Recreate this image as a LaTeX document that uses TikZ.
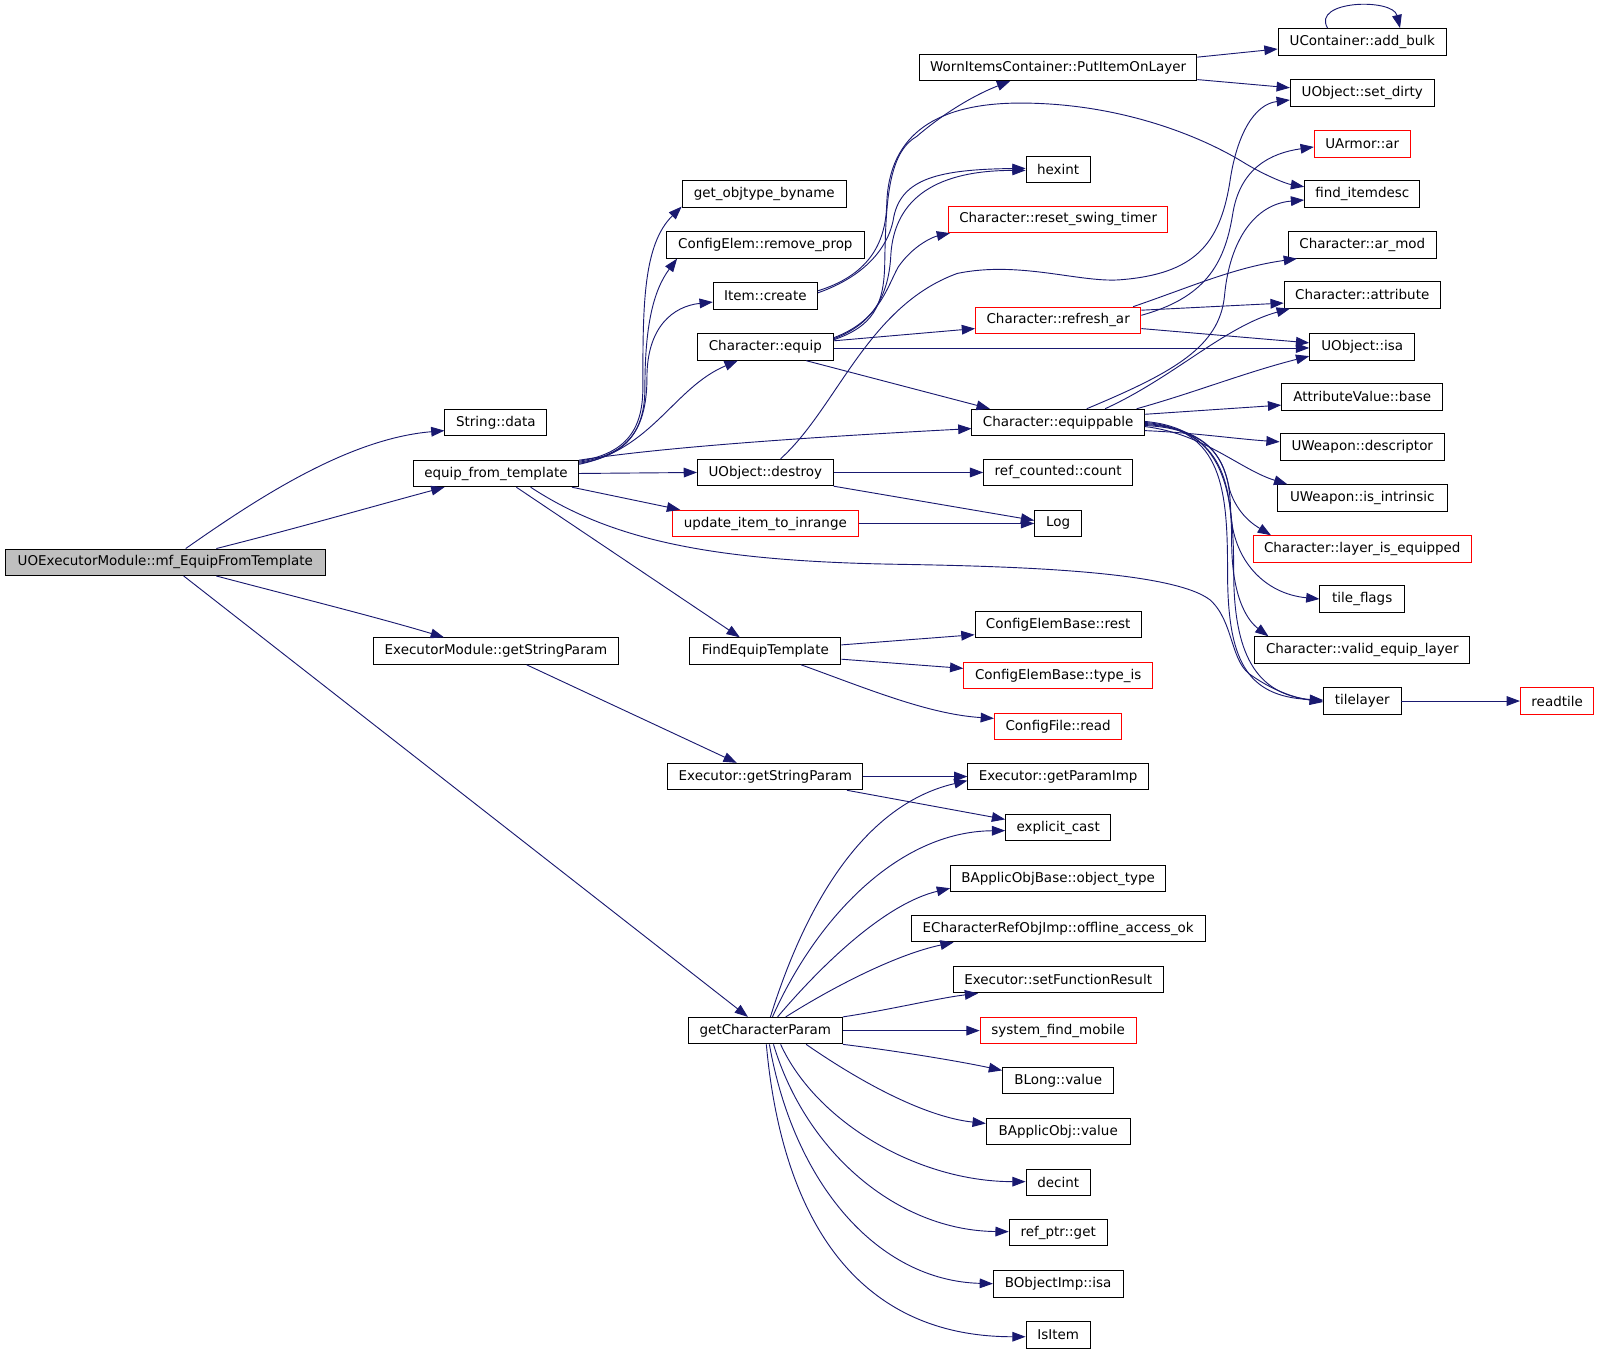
\documentclass[tikz,border=0pt]{standalone}
\usepackage{fontspec}
\setmainfont{DejaVu Sans}
\usetikzlibrary{arrows.meta}
\definecolor{edgecol}{HTML}{191970}
\definecolor{mainfill}{HTML}{BFBFBF}
\begin{document}
\begin{tikzpicture}[x=1pt,y=-1pt,
  box/.style={draw=black, line width=0.9pt, minimum height=26pt, inner sep=0pt, font=\fontsize{13.2}{15}\selectfont, fill=white},
  redbox/.style={box, draw=red},
  e/.style={draw=edgecol, line width=0.9pt, -{Triangle[length=13pt,width=9.5pt]}},
]
\useasboundingbox[fill=white] (0,0) rectangle (1568,1326);

% column 0/1
\node[box, minimum width=313pt, fill=mainfill] (main) at (162,551) {UOExecutorModule::mf\_EquipFromTemplate};
\node[box, minimum width=100pt] (sdata) at (486,414) {String::data};
\node[box, minimum width=162pt] (efrom) at (486,464) {equip\_from\_template};
\node[box, minimum width=241pt] (emgsp) at (486,638) {ExecutorModule::getStringParam};
% column 2
\node[box, minimum width=161pt] (gobj) at (749,190) {get\_objtype\_byname};
\node[box, minimum width=194pt] (remprop) at (750,240) {ConfigElem::remove\_prop};
\node[box, minimum width=102pt] (icreate) at (750,290) {Item::create};
\node[box, minimum width=133pt] (cequip) at (750,340) {Character::equip};
\node[box, minimum width=133pt] (udestroy) at (750,463) {UObject::destroy};
\node[redbox, minimum width=182pt] (uitir) at (750,513) {update\_item\_to\_inrange};
\node[box, minimum width=148pt] (fet) at (750,638) {FindEquipTemplate};
\node[box, minimum width=191pt] (exgsp) at (750,761) {Executor::getStringParam};
\node[box, minimum width=151pt] (gcp) at (750,1010) {getCharacterParam};
% column 3
\node[box, minimum width=272pt] (worn) at (1037,66) {WornItemsContainer::PutItemOnLayer};
\node[box, minimum width=63pt] (hexint) at (1037,166) {hexint};
\node[redbox, minimum width=215pt] (rst) at (1037,215) {Character::reset\_swing\_timer};
\node[redbox, minimum width=162pt] (refar) at (1037,314) {Character::refresh\_ar};
\node[box, minimum width=169pt] (equipp) at (1037,414) {Character::equippable};
\node[box, minimum width=146pt] (rcc) at (1037,463) {ref\_counted::count};
\node[box, minimum width=46pt] (log) at (1037,513) {Log};
\node[box, minimum width=163pt] (cebrest) at (1037,612) {ConfigElemBase::rest};
\node[redbox, minimum width=185pt] (cebti) at (1037,662) {ConfigElemBase::type\_is};
\node[redbox, minimum width=125pt] (cfread) at (1037,712) {ConfigFile::read};
\node[box, minimum width=177pt] (gpi) at (1037,761) {Executor::getParamImp};
\node[box, minimum width=103pt] (ecast) at (1037,811) {explicit\_cast};
\node[box, minimum width=211pt] (baot) at (1037,861) {BApplicObjBase::object\_type};
\node[box, minimum width=288pt] (ecro) at (1037,910) {ECharacterRefObjImp::offline\_access\_ok};
\node[box, minimum width=206pt] (esfr) at (1037,960) {Executor::setFunctionResult};
\node[redbox, minimum width=153pt] (sfm) at (1037,1010) {system\_find\_mobile};
\node[box, minimum width=109pt] (blong) at (1037,1059) {BLong::value};
\node[box, minimum width=141pt] (bapv) at (1037,1109) {BApplicObj::value};
\node[box, minimum width=63pt] (decint) at (1037,1159) {decint};
\node[box, minimum width=96pt] (rpget) at (1037,1208) {ref\_ptr::get};
\node[box, minimum width=127pt] (boisa) at (1037,1258) {BObjectImp::isa};
\node[box, minimum width=63pt] (isitem) at (1037,1308) {IsItem};
% column 4
\node[box, minimum width=165pt] (addbulk) at (1335,41) {UContainer::add\_bulk};
\node[box, minimum width=141pt] (setdirty) at (1335,91) {UObject::set\_dirty};
\node[redbox, minimum width=94pt] (uarmor) at (1335,141) {UArmor::ar};
\node[box, minimum width=113pt] (finditem) at (1335,190) {find\_itemdesc};
\node[box, minimum width=145pt] (armod) at (1335,240) {Character::ar\_mod};
\node[box, minimum width=153pt] (attr) at (1335,289) {Character::attribute};
\node[box, minimum width=103pt] (uoisa) at (1335,340) {UObject::isa};
\node[box, minimum width=158pt] (avbase) at (1335,389) {AttributeValue::base};
\node[box, minimum width=161pt] (uwdesc) at (1335,438) {UWeapon::descriptor};
\node[box, minimum width=166pt] (uwint) at (1335,488) {UWeapon::is\_intrinsic};
\node[redbox, minimum width=214pt] (lie) at (1335,538) {Character::layer\_is\_equipped};
\node[box, minimum width=83pt] (tflags) at (1335,587) {tile\_flags};
\node[box, minimum width=211pt] (vel) at (1335,637) {Character::valid\_equip\_layer};
\node[box, minimum width=76pt] (tilelayer) at (1335,687) {tilelayer};
\node[redbox, minimum width=72pt] (readtile) at (1526,687) {readtile};

% main
\draw[e] ([xshift=20pt]main.north) .. controls (250,490) and (340,430) .. ([yshift=-8pt]sdata.west);
\draw[e] ([xshift=50pt]main.north) .. controls (290,518) and (370,495) .. ([xshift=31pt]efrom.south west);
\draw[e] ([xshift=50pt]main.south) .. controls (290,585) and (370,605) .. ([xshift=70pt]emgsp.north west);
\draw[e] ([xshift=18pt]main.south) -- ([xshift=-17pt]gcp.north);

% equip_from_template
\draw[e] ([yshift=12pt]efrom.east) .. controls (610,445) and (630,425) .. (630,380) .. controls (630,300) and (630,240) .. ([yshift=1pt]gobj.south west);
\draw[e] ([yshift=11pt]efrom.east) .. controls (612,446) and (632,425) .. (632,380) .. controls (632,320) and (640,285) .. ([xshift=11pt]remprop.south west);
\draw[e] ([yshift=10pt]efrom.east) .. controls (612,447) and (634,425) .. (634,370) .. controls (634,320) and (660,300) .. ([yshift=-6pt]icreate.west);
\draw[e] ([yshift=9pt]efrom.east) .. controls (640,440) and (660,380) .. ([xshift=-27pt]cequip.south);
\draw[e] ([yshift=13pt]efrom.east) .. controls (650,438) and (800,428) .. ([yshift=-6pt]equipp.west);
\draw[e] (efrom.east) -- (udestroy.west);
\draw[e] ([xshift=-7pt]efrom.south east) -- ([xshift=8pt]uitir.north west);
\draw[e] ([xshift=20pt]efrom.south) -- ([xshift=-25pt]fet.north);
\draw[e] ([xshift=34pt]efrom.south) .. controls (600,530) and (700,550) .. (880,553) .. controls (1000,555) and (1150,560) .. (1186,588) .. controls (1210,610) and (1205,650) .. (1228,663) .. controls (1250,678) and (1270,684) .. ([yshift=-1pt]tilelayer.west);

% ExecutorModule::getStringParam
\draw[e] ([xshift=30pt]emgsp.south) -- ([xshift=-28pt]exgsp.north);
\draw[e] (exgsp.east) -- (gpi.west);
\draw[e] ([xshift=80pt]exgsp.south) -- ([yshift=8pt]ecast.west);

% Item::create
\draw[e] ([yshift=5pt]icreate.east) .. controls (850,270) and (868,240) .. (869,200) .. controls (871,130) and (920,101) .. (1000,101) .. controls (1100,101) and (1180,135) .. (1220,160) .. controls (1240,172) and (1260,180) .. ([yshift=7pt]finditem.west);
\draw[e] ([yshift=3pt]icreate.east) .. controls (850,270) and (872,240) .. (876,212) .. controls (884,175) and (920,166) .. ([yshift=1pt]hexint.west);

% Character::equip
\draw[e] ([yshift=7pt]cequip.east) .. controls (855,320) and (866,300) .. (867,260) .. controls (868,200) and (870,150) .. (898,134) .. controls (920,115) and (950,95) .. ([xshift=-47pt]worn.south);
\draw[e] ([yshift=8pt]cequip.east) .. controls (855,318) and (871,290) .. (873,250) .. controls (876,200) and (910,167) .. ([yshift=-1pt]hexint.west);
\draw[e] ([yshift=9pt]cequip.east) .. controls (860,315) and (868,285) .. (880,262) .. controls (895,240) and (915,232) .. ([xshift=2pt]rst.south west);
\draw[e] ([yshift=6pt]cequip.east) -- ([yshift=-8pt]refar.west);
\draw[e] ([yshift=-1pt]cequip.east) -- ([yshift=-1pt]uoisa.west);
\draw[e] ([xshift=40pt]cequip.south) -- ([xshift=-67pt]equipp.north);

% UObject::destroy
\draw[e] ([xshift=15pt]udestroy.north) .. controls (820,400) and (850,300) .. (938,268) .. controls (1000,255) and (1060,278) .. (1100,274) .. controls (1170,268) and (1195,240) .. (1205,180) .. controls (1212,130) and (1230,102) .. ([yshift=-7pt]setdirty.west);
\draw[e] (udestroy.east) -- (rcc.west);
\draw[e] (udestroy.south east) -- ([yshift=3pt]log.west);
\draw[e] (uitir.east) -- (log.west);

% FindEquipTemplate
\draw[e] ([yshift=6pt]fet.east) -- ([yshift=-10pt]cebrest.west);
\draw[e] ([yshift=-8pt]fet.east) -- ([yshift=7pt]cebti.west);
\draw[e] ([xshift=35pt]fet.south) .. controls (850,675) and (910,700) .. ([yshift=8pt]cfread.west);

% getCharacterParam
\draw[e] ([xshift=5pt]gcp.north) .. controls (785,900) and (840,790) .. ([yshift=-4pt]gpi.west);
\draw[e] ([xshift=7pt]gcp.north) .. controls (800,900) and (880,815) .. ([yshift=-3pt]ecast.west);
\draw[e] ([xshift=12pt]gcp.north) .. controls (810,940) and (870,885) .. ([yshift=4pt]baot.south west);
\draw[e] ([xshift=20pt]gcp.north) .. controls (820,965) and (880,935) .. ([xshift=42pt]ecro.south west);
\draw[e] (gcp.north east) .. controls (870,990) and (920,978) .. ([xshift=25pt]esfr.south west);
\draw[e] (gcp.east) -- (sfm.west);
\draw[e] (gcp.south east) .. controls (880,1030) and (940,1040) .. ([yshift=10pt]blong.west);
\draw[e] ([xshift=40pt]gcp.south) .. controls (850,1065) and (910,1095) .. ([yshift=8pt]bapv.west);
\draw[e] ([xshift=15pt]gcp.south) .. controls (800,1100) and (900,1158) .. ([yshift=1pt]decint.west);
\draw[e] ([xshift=8pt]gcp.south) .. controls (790,1130) and (880,1206) .. ([yshift=1pt]rpget.west);
\draw[e] ([xshift=4pt]gcp.south) .. controls (778,1160) and (860,1255) .. (boisa.west);
\draw[e] ([xshift=1pt]gcp.south) .. controls (765,1180) and (830,1310) .. ([yshift=-2pt]isitem.west);

% WornItemsContainer
\draw[e] ([yshift=10pt]worn.east) -- ([yshift=-7pt]addbulk.west);
\draw[e] ([yshift=-12pt]worn.east) -- ([yshift=5pt]setdirty.west);
\draw[e] ([xshift=-34pt]addbulk.north) .. controls (1285,0) and (1365,-2) .. ([xshift=37pt]addbulk.north);

% Character::refresh_ar
\draw[e] ([yshift=5pt]refar.east) .. controls (1180,292) and (1200,260) .. (1208,210) .. controls (1215,165) and (1245,150) .. ([yshift=-3pt]uarmor.west);
\draw[e] ([xshift=-8pt]refar.north east) .. controls (1170,280) and (1210,262) .. ([xshift=9pt]armod.south west);
\draw[e] ([yshift=10pt]refar.east) -- ([yshift=-8pt]attr.west);
\draw[e] ([yshift=-8pt]refar.east) -- ([yshift=4pt]uoisa.west);

% Character::equippable
\draw[e] ([xshift=28pt]equipp.north) .. controls (1150,365) and (1195,340) .. (1200,290) .. controls (1205,235) and (1230,200) .. ([yshift=-6pt]finditem.west);
\draw[e] ([xshift=46pt]equipp.north) .. controls (1150,370) and (1200,320) .. ([xshift=6pt]attr.south west);
\draw[e] ([xshift=-8pt]equipp.north east) .. controls (1170,385) and (1220,365) .. ([yshift=-9pt]uoisa.west);
\draw[e] ([yshift=8pt]equipp.east) -- ([yshift=-8pt]avbase.west);
\draw[e] ([yshift=-8pt]equipp.east) .. controls (1170,424) and (1210,430) .. ([yshift=5pt]uwdesc.west);
\draw[e] ([yshift=-4pt]equipp.east) .. controls (1180,425) and (1215,460) .. ([xshift=10pt]uwint.north west);
\draw[e] ([yshift=-3pt]equipp.east) .. controls (1190,420) and (1200,455) .. (1205,480) .. controls (1213,505) and (1230,515) .. ([xshift=18pt]lie.north west);
\draw[e] ([yshift=-2pt]equipp.east) .. controls (1195,420) and (1205,460) .. (1206,500) .. controls (1208,550) and (1240,582) .. (tflags.west);
\draw[e] ([yshift=-1pt]equipp.east) .. controls (1195,420) and (1207,470) .. (1207,530) .. controls (1207,590) and (1225,610) .. ([xshift=14pt]vel.north west);
\draw[e] ([yshift=0pt]equipp.east) .. controls (1198,420) and (1203,480) .. (1203,560) .. controls (1203,645) and (1220,683) .. ([yshift=1pt]tilelayer.west);
\draw[e] ([yshift=1pt]equipp.east) .. controls (1200,420) and (1209,480) .. (1209,560) .. controls (1209,640) and (1230,680) .. ([yshift=0pt]tilelayer.west);

% tilelayer
\draw[e] (tilelayer.east) -- (readtile.west);
\end{tikzpicture}
\end{document}
